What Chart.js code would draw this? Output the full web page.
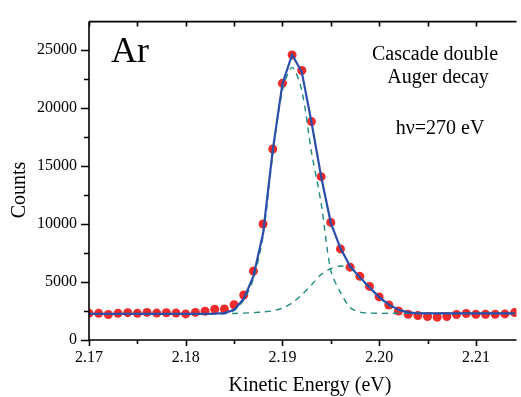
<!DOCTYPE html>
<html>
<head>
<meta charset="utf-8">
<script src="https://cdn.jsdelivr.net/npm/chart.js@4.4.1/dist/chart.umd.min.js"></script>
<style>
html, body { margin: 0; padding: 0; background: #fff; overflow: hidden; }
#wrap { width: 521px; height: 397px; position: relative; }
</style>
</head>
<body>
<div id="wrap"><canvas id="c"></canvas></div>
<script>
// kinetic energy grid (eV)
var energy = [2.170, 2.171, 2.172, 2.173, 2.174, 2.175, 2.176, 2.177, 2.178, 2.179,
  2.180, 2.181, 2.182, 2.183, 2.184, 2.185, 2.186, 2.187, 2.188, 2.189,
  2.190, 2.191, 2.192, 2.193, 2.194, 2.195, 2.196, 2.197, 2.198, 2.199,
  2.200, 2.201, 2.202, 2.203, 2.204, 2.205, 2.206, 2.207, 2.208, 2.209,
  2.210, 2.211, 2.212, 2.213, 2.214];

// measured counts (red dots)
var counts = [2300, 2300, 2200, 2300, 2360, 2300, 2380, 2320, 2350, 2320,
  2250, 2380, 2475, 2650, 2670, 3040, 3880, 5940, 10000, 16470,
  22130, 24580, 23230, 18830, 14080, 10135, 7855, 6280, 5490, 4620,
  3716, 3015, 2500, 2220, 2110, 2030, 1970, 2030, 2200, 2280,
  2220, 2220, 2220, 2250, 2365];

// total fit (blue)
var fitTotal = [2260, 2260, 2260, 2260, 2260, 2260, 2260, 2260, 2260, 2260,
  2260, 2260, 2260, 2270, 2320, 2600, 3550, 5500, 9200, 16400,
  22100, 24600, 23100, 18800, 14100, 10100, 7900, 6350, 5400, 4550,
  3700, 3050, 2600, 2380, 2300, 2290, 2290, 2290, 2290, 2290,
  2290, 2290, 2290, 2290, 2290];

// main Auger line component (dashed)
var peakMain = [2260, 2260, 2260, 2260, 2260, 2260, 2260, 2260, 2260, 2260,
  2260, 2260, 2260, 2270, 2300, 2550, 3450, 5300, 9000, 16000,
  21500, 23500, 21500, 16200, 11800, 6000, 4100, 2800, 2400, 2320,
  2300, 2300, 2300, 2300, 2300, 2300, 2300, 2300, 2300, 2300,
  2300, 2300, 2300, 2300, 2300];

// cascade satellite component (dashed)
var peakSatellite = [2260, 2260, 2260, 2260, 2260, 2260, 2260, 2260, 2260, 2260,
  2260, 2260, 2260, 2260, 2270, 2290, 2320, 2360, 2420, 2520,
  2750, 3200, 3900, 4750, 5650, 6150, 6380, 6250, 5350, 4500,
  3650, 3000, 2580, 2380, 2310, 2300, 2300, 2300, 2300, 2300,
  2300, 2300, 2300, 2300, 2300];

var xTicks = [2.17, 2.18, 2.19, 2.20, 2.21];
var yTicks = [0, 5000, 10000, 15000, 20000, 25000];

var serif = "'Liberation Serif', 'Times New Roman', serif";

function pts(ys) {
  return energy.map(function(x, i) { return { x: x, y: ys[i] }; });
}

// axes frame, tick marks and the text on the plot
var frame = {
  id: 'frame',
  afterDraw: function(chart) {
    var ctx = chart.ctx, a = chart.chartArea;
    var xs = chart.scales.x, ys = chart.scales.y;
    ctx.save();
    ctx.strokeStyle = '#000';
    ctx.lineWidth = 1.6;
    ctx.beginPath();
    ctx.moveTo(a.left, a.top);
    ctx.lineTo(a.left, a.bottom);
    ctx.lineTo(a.right, a.bottom);
    ctx.moveTo(a.left, a.top);
    ctx.lineTo(a.right, a.top);
    for (var v = 0; v <= ys.max; v += 2500) {
      var py = Math.round(ys.getPixelForValue(v)) + 0.5;
      var len = v % 5000 === 0 ? 8 : 5;
      ctx.moveTo(a.left - len, py);
      ctx.lineTo(a.left, py);
    }
    for (var i = 0; i < 10; i++) {
      var xv = 2.17 + i * 0.005;
      if (xv > xs.max) break;
      var px = Math.round(xs.getPixelForValue(xv)) + 0.5;
      ctx.moveTo(px, a.bottom);
      ctx.lineTo(px, a.bottom + (i % 2 === 0 ? 6 : 4));
      ctx.moveTo(px, a.top);
      ctx.lineTo(px, a.top + 5);
    }
    ctx.stroke();

    ctx.fillStyle = '#000';
    ctx.textBaseline = 'alphabetic';
    ctx.textAlign = 'left';
    ctx.font = '36px ' + serif;
    ctx.fillText('Ar', 111, 62);
    ctx.textAlign = 'center';
    ctx.font = '20px ' + serif;
    ctx.fillText('Cascade double', 435, 60);
    ctx.fillText('Auger decay', 438, 83);
    ctx.fillText('h\u03bd=270 eV', 440, 134);
    ctx.fillText('Kinetic Energy (eV)', 310, 391);
    ctx.translate(25, 190);
    ctx.rotate(-Math.PI / 2);
    ctx.fillText('Counts', 0, 0);
    ctx.restore();
  }
};

new Chart(document.getElementById('c'), {
  type: 'line',
  data: {
    datasets: [{
      label: 'Fit',
      data: pts(fitTotal),
      borderColor: '#2b4ea8',
      borderWidth: 2.2,
      pointRadius: 0,
      tension: 0,
      order: 0
    }, {
      label: 'Main',
      data: pts(peakMain),
      borderColor: '#1d8a80',
      borderWidth: 1.4,
      borderDash: [6, 5],
      pointRadius: 0,
      tension: 0.3,
      order: 1
    }, {
      label: 'Satellite',
      data: pts(peakSatellite),
      borderColor: '#1d8a80',
      borderWidth: 1.4,
      borderDash: [6, 5],
      pointRadius: 0,
      tension: 0.3,
      order: 1
    }, {
      label: 'Counts',
      data: pts(counts),
      showLine: false,
      pointRadius: 4.5,
      pointBackgroundColor: '#ee2a2a',
      pointBorderWidth: 0,
      order: 2
    }]
  },
  options: {
    responsive: true,
    maintainAspectRatio: false,
    animation: false,
    events: [],
    layout: { padding: { top: 15, right: 0, left: 0, bottom: 0 } },
    plugins: { legend: { display: false }, tooltip: { enabled: false } },
    scales: {
      x: {
        type: 'linear',
        min: 2.17,
        max: 2.2142,
        grid: { display: false, drawTicks: false },
        border: { display: false },
        afterBuildTicks: function(s) { s.ticks = xTicks.map(function(v) { return { value: v }; }); },
        afterFit: function(s) { s.height = 57; },
        ticks: {
          padding: 8,
          maxRotation: 0,
          autoSkip: false,
          color: '#000',
          font: { family: serif, size: 16 },
          callback: function(v) { return v.toFixed(2); }
        }
      },
      y: {
        min: 0,
        max: 27450,
        grid: { display: false, drawTicks: false },
        border: { display: false },
        afterBuildTicks: function(s) { s.ticks = yTicks.map(function(v) { return { value: v }; }); },
        afterFit: function(s) { s.width = 89; },
        ticks: {
          padding: 12,
          color: '#000',
          font: { family: serif, size: 16 },
          callback: function(v) { return String(v); }
        }
      }
    }
  },
  plugins: [frame]
});
</script>
</body>
</html>
